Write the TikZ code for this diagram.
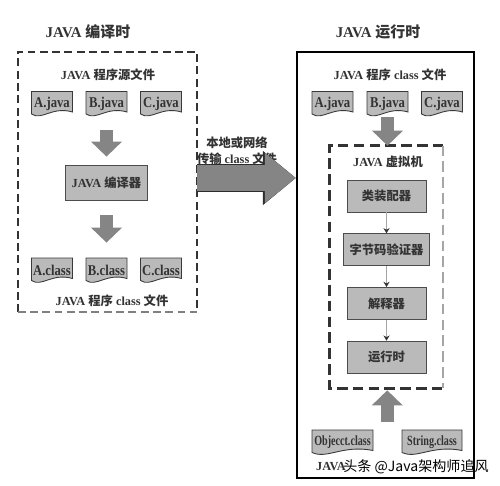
\documentclass[tikz,border=0pt]{standalone}
\usepackage{fontspec}
\setmainfont{Liberation Serif}
\newfontfamily\cjk{Noto Sans CJK SC}
\newfontfamily\docfont[FakeStretch=0.85]{Liberation Serif}
\newfontfamily\libfont[FakeStretch=0.72]{Liberation Serif}
\newcommand\zh[1]{{\cjk #1}}
\usetikzlibrary{shapes, arrows, calc, arrows.meta, positioning}
\definecolor{ink}{HTML}{333333}
\definecolor{boxgray}{HTML}{BABABA}
\definecolor{arrowgray}{HTML}{858585}

\begin{document}
\begin{tikzpicture}[x=0.02cm, y=-0.02cm,
            every node/.style={text=ink, font=\fontsize{7}{9}\selectfont\bfseries},
            title/.style={font=\fontsize{8.5}{10}\selectfont\bfseries},
            stage/.style={rectangle, fill=boxgray, draw=gray!60!black, line width=0.4pt,
                          minimum width=1.58cm, minimum height=0.64cm},
            doc/.style={fill=boxgray, draw=gray!45!black, line width=0.5pt},
            doc text/.style={minimum height=0.5cm, inner sep=0pt, font=\fontsize{8.5}{9}\selectfont\docfont\bfseries},
            lib text/.style={minimum height=0.5cm, inner sep=0pt, font=\fontsize{8}{9}\selectfont\libfont\bfseries},
            frame/.style={draw=ink, line width=1.2pt, dash pattern=on 4.5pt off 2.5pt},
            block arrow/.style={draw=arrowgray, line width=0.25cm, -{Triangle[length=0.3cm, width=0.6cm]}},
            big arrow/.style={draw=arrowgray, line width=0.54cm, -{Triangle[length=0.62cm, width=0.96cm]},
                          preaction={draw=gray!35!black, line width=0.58cm, -{Triangle[length=0.66cm, width=1.04cm]}}},
            step arrow/.style={draw=gray!70, line width=0.6pt, -{Stealth[length=3pt, width=3.5pt, color=ink]}}]

            \useasboundingbox (0,0) rectangle (500,486);

            % containers
            \node[minimum width=3.58cm, minimum height=5.2cm] (compile) at (107.5,182) {};
            \draw[frame] (compile.south west) -- (compile.north west) -- (compile.north east) -- (compile.south east);
            \draw[frame, draw=gray] (compile.south west) -- (compile.south east);
            \node[draw=black, line width=1.3pt, minimum width=3.54cm, minimum height=8.52cm] (runtime) at (385.5,265) {};
            \node[minimum width=2.26cm, minimum height=4.84cm] (jvm) at (386.5,267) {};
            \draw[frame, line width=1.5pt, dash pattern=on 6pt off 3pt] (jvm.north east) -- (jvm.north west) -- (jvm.south west) -- (jvm.south east);
            \draw[frame, draw=gray!70, line width=1.2pt, dash pattern=on 6pt off 3pt] (jvm.north east) -- (jvm.south east);

            \node[title] (ctitle) at (88,32) {JAVA \zh{编译时}};
            \node[title] (rtitle) at (378,32) {JAVA \zh{运行时}};
            \node (srclabel) at (108,75) {JAVA \zh{程序源文件}};
            \node (clslabel) at (112,301) {JAVA \zh{程序} class \zh{文件}};
            \node (rlabel) at (390,75) {JAVA \zh{程序} class \zh{文件}};
            \node (jvmlabel) at (388,162) {JAVA \zh{虚拟机}};
            \node[align=center] (netlabel) at (237,151) {\zh{本地或网络}\\\zh{传输} class \zh{文件}};

            % files
            \foreach \nm/\cx/\cy/\w/\txt in {aj/52/104/41/A.java, bj/106.5/104/41/B.java, cj/161/104/41/C.java,
                                            ac/52/270.5/41/A.class, bc/106.5/270.5/41/B.class, cc/161/270.5/41/C.class,
                                            raj/332.5/104/41/A.java, rbj/387.5/104/41/B.java, rcj/442/104/41/C.java}{
                \filldraw[doc] ({\cx-\w/2},{\cy-12.5}) -- ({\cx+\w/2},{\cy-12.5}) -- ({\cx+\w/2},{\cy+8})
                    .. controls ({\cx},{\cy+2}) and ({\cx-\w/4},{\cy+17}) .. ({\cx-\w/2},{\cy+10}) -- cycle;
                \node[doc text] (\nm) at (\cx,\cy) {\txt};
            }
            \foreach \nm/\cx/\cy/\w/\txt in {obj/342.5/442.5/61/Objecct.class, str/432/442.5/60/String.class}{
                \filldraw[doc] ({\cx-\w/2},{\cy-12.5}) -- ({\cx+\w/2},{\cy-12.5}) -- ({\cx+\w/2},{\cy+8})
                    .. controls ({\cx},{\cy+2}) and ({\cx-\w/4},{\cy+17}) .. ({\cx-\w/2},{\cy+10}) -- cycle;
                \node[lib text] (\nm) at (\cx,\cy) {\txt};
            }

            \node[stage, minimum width=1.54cm, minimum height=0.7cm] (javac) at (106.5,182.5) {JAVA \zh{编译器}};

            \node[stage] (loader) at (386.5,196) {\zh{类装配器}};
            \node[stage, below=0.42cm of loader] (verifier) {\zh{字节码验证器}};
            \node[stage, below=0.42cm of verifier] (interp) {\zh{解释器}};
            \node[stage, below=0.42cm of interp] (exec) {\zh{运行时}};

            \node (libnote) at (331,467) {JAVA};
            \node[font=\fontsize{8}{9}\selectfont\cjk\mdseries, text=black] (mark) at (416,467) {头条 @Java架构师追风};

            % connectors
            \draw[block arrow, shorten <=0.27cm, shorten >=0.16cm] (bj.south) -- (javac.north);
            \draw[block arrow, shorten <=0.3cm, shorten >=0.3cm] (javac.south) -- (bc.north);
            \draw[big arrow] ([yshift=0.08cm]compile.east) -- ([yshift=0.08cm]compile.east -| runtime.west);
            \draw[block arrow] (rbj.south) -- (rbj.south |- jvm.north);
            \coordinate (libs) at ($(obj.north)!0.5!(str.north)$);
            \draw[block arrow, shorten <=0.16cm, shorten >=0.04cm] (libs) -- (libs |- jvm.south);
            \draw[step arrow] (loader) -- (verifier);
            \draw[step arrow] (verifier) -- (interp);
            \draw[step arrow] (interp) -- (exec);

        \end{tikzpicture}
\end{document}
